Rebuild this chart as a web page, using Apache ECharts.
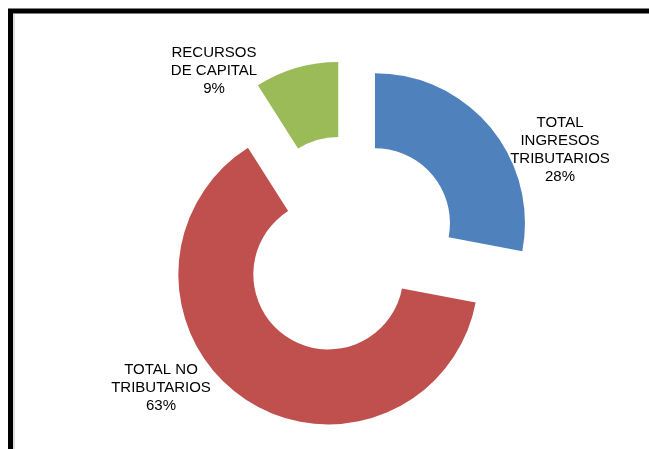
<!DOCTYPE html>
<html>
<head>
<meta charset="utf-8">
<script src="https://cdn.jsdelivr.net/npm/echarts@6/dist/echarts.min.js"></script>
<style>
  html, body { margin: 0; padding: 0; background: #fff; }
  #main { width: 649px; height: 449px; }
</style>
</head>
<body>
<div id="main"></div>
<script>
var categories = ['TOTAL\nINGRESOS\nTRIBUTARIOS', 'TOTAL NO\nTRIBUTARIOS', 'RECURSOS\nDE CAPITAL'];
var values = [28, 63, 9];
var colors = ['#4F81BD', '#C0504D', '#9BBB59'];

// centre of each label block
var labelPos = [[560, 150], [161, 388], [214, 71]];

var box = echarts.init(document.getElementById('main'));

var total = values.reduce(function (a, b) { return a + b; }, 0);

var labels = categories.map(function (name, i) {
    return {
        type: 'text',
        x: labelPos[i][0],
        y: labelPos[i][1],
        style: {
            text: name + '\n' + Math.round(values[i] / total * 100) + '%',
            fill: '#000',
            font: '15px "Liberation Sans", Arial',
            lineHeight: 18,
            align: 'center',
            verticalAlign: 'middle'
        },
        z: 10
    };
});

option = {
    animation: false,
    graphic: [{
        type: 'rect',
        shape: { x: 10.5, y: 11, width: 700, height: 500 },
        style: { fill: 'none', stroke: '#000', lineWidth: 5 },
        z: 10
    }, {
        type: 'line',
        shape: { x1: 14, y1: 14, x2: 14, y2: 449 },
        style: { stroke: '#bbb', lineWidth: 1 },
        z: 10
    }].concat(labels),
    series: [
        {
            type: 'pie',
            center: [348, 245.5],
            radius: [75, 150],
            startAngle: 90,
            clockwise: true,
            selectedMode: 'multiple',
            selectedOffset: 35,
            label: { show: false },
            labelLine: { show: false },
            emphasis: { disabled: true },
            data: categories.map(function (name, i) {
                return {
                    name: name,
                    value: values[i],
                    selected: true,
                    itemStyle: { color: colors[i] }
                };
            })
        }
    ]
};
box.setOption(option);
</script>
</body>
</html>
